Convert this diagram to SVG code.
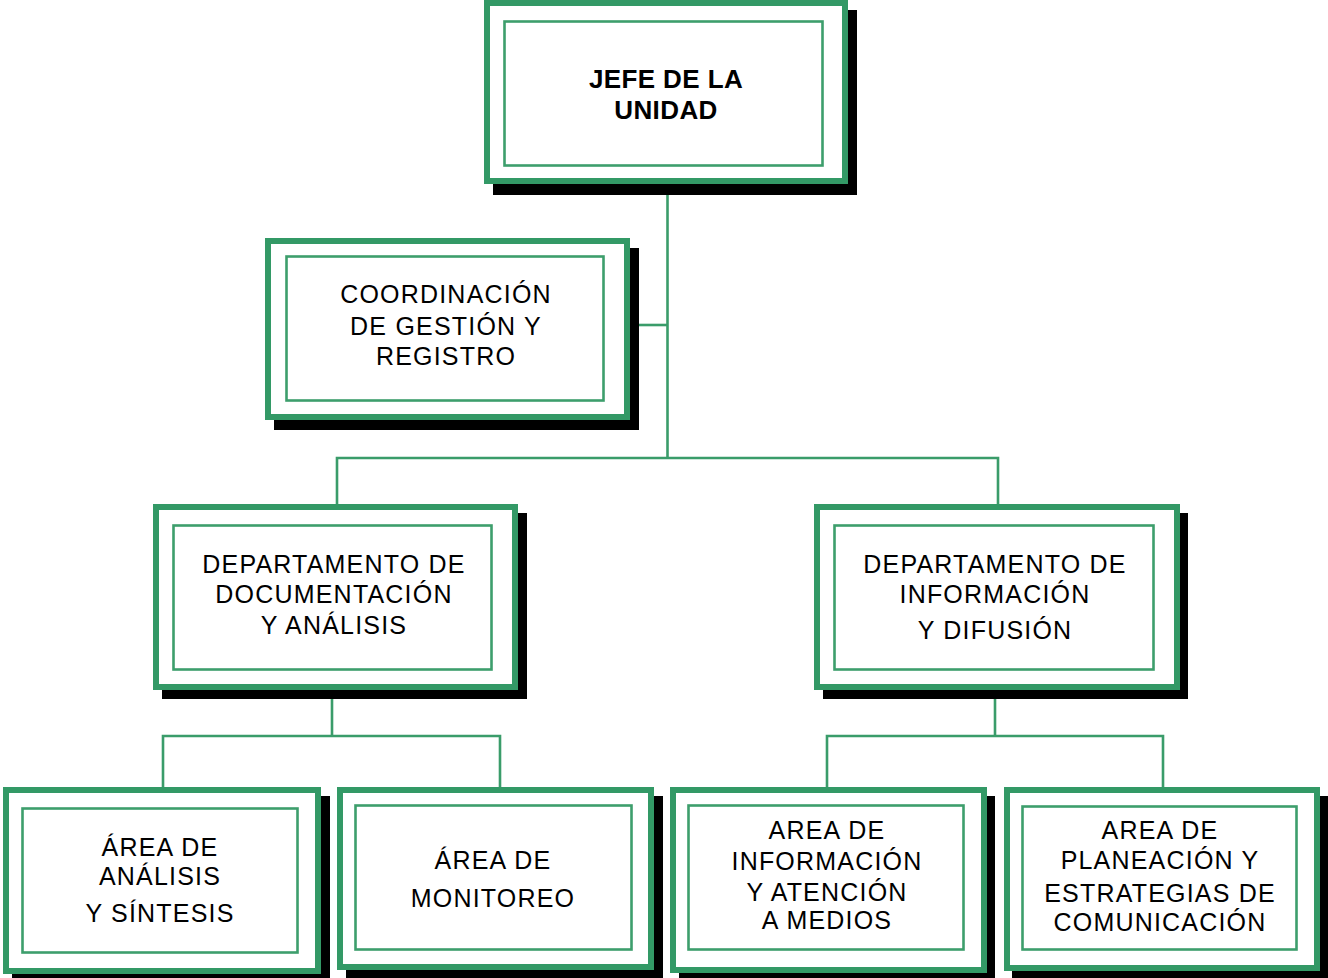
<svg xmlns="http://www.w3.org/2000/svg" width="1328" height="978" viewBox="0 0 1328 978">
  <style>
    .shadow { fill: #000; }
    .outer { fill: #fff; stroke: #339966; stroke-width: 6; }
    .inner { fill: none; stroke: #3d9e6c; stroke-width: 2.6; }
    .link { fill: none; stroke: #3a9c6a; stroke-width: 2.6; }
    .lbl { font-family: "Liberation Sans", Arial, sans-serif; font-size: 25px; letter-spacing: 1.2px; fill: #000; text-anchor: middle; }
    .bold { font-weight: bold; font-size: 26px; letter-spacing: 0.4px; }
  </style>
  <rect width="1328" height="978" fill="#fff"/>

  <!-- connectors -->
  <g id="connectors">
    <path class="link" d="M667.5 184 V458"/>
    <path class="link" d="M639 325 H667.5"/>
    <path class="link" d="M337 504 V458 H998 V504"/>
    <path class="link" d="M332 690 V736"/>
    <path class="link" d="M163 787 V736 H500 V787"/>
    <path class="link" d="M995 690 V736"/>
    <path class="link" d="M827 787 V736 H1163 V787"/>
  </g>

  <!-- head of unit -->
  <g id="jefe">
    <rect class="shadow" x="493" y="10" width="364" height="185"/>
    <rect class="outer" x="487" y="3" width="358" height="178"/>
    <rect class="inner" x="504.5" y="21.5" width="318" height="144"/>
    <text class="lbl bold" x="666" y="88">JEFE DE LA</text>
    <text class="lbl bold" x="666" y="119">UNIDAD</text>
  </g>

  <!-- coordination -->
  <g id="coordinacion">
    <rect class="shadow" x="274" y="248" width="365" height="182"/>
    <rect class="outer" x="268" y="241" width="359" height="176"/>
    <rect class="inner" x="286.5" y="256.5" width="317" height="144"/>
    <text class="lbl" x="446" y="303">COORDINACIÓN</text>
    <text class="lbl" x="446" y="335">DE GESTIÓN Y</text>
    <text class="lbl" x="446" y="365">REGISTRO</text>
  </g>

  <!-- documentation department -->
  <g id="dep-documentacion">
    <rect class="shadow" x="162" y="513" width="365" height="186"/>
    <rect class="outer" x="156" y="507" width="359" height="180"/>
    <rect class="inner" x="173.5" y="525.5" width="318" height="144"/>
    <text class="lbl" x="334" y="573">DEPARTAMENTO DE</text>
    <text class="lbl" x="334" y="603">DOCUMENTACIÓN</text>
    <text class="lbl" x="334" y="634">Y ANÁLISIS</text>
  </g>

  <!-- information department -->
  <g id="dep-informacion">
    <rect class="shadow" x="823" y="513" width="365" height="186"/>
    <rect class="outer" x="817" y="507" width="360" height="180"/>
    <rect class="inner" x="834.5" y="525.5" width="319" height="144"/>
    <text class="lbl" x="995" y="573">DEPARTAMENTO DE</text>
    <text class="lbl" x="995" y="603">INFORMACIÓN</text>
    <text class="lbl" x="995" y="639">Y DIFUSIÓN</text>
  </g>

  <!-- analysis area -->
  <g id="area-analisis">
    <rect class="shadow" x="12" y="796" width="318" height="186"/>
    <rect class="outer" x="6" y="790" width="312" height="181"/>
    <rect class="inner" x="22.5" y="808.5" width="275" height="144"/>
    <text class="lbl" x="160" y="856">ÁREA DE</text>
    <text class="lbl" x="160" y="885">ANÁLISIS</text>
    <text class="lbl" x="160" y="922">Y SÍNTESIS</text>
  </g>

  <!-- monitoring area -->
  <g id="area-monitoreo">
    <rect class="shadow" x="346" y="796" width="317" height="182"/>
    <rect class="outer" x="340" y="790" width="311" height="177"/>
    <rect class="inner" x="355.5" y="805.5" width="276" height="144"/>
    <text class="lbl" x="493" y="869">ÁREA DE</text>
    <text class="lbl" x="493" y="907">MONITOREO</text>
  </g>

  <!-- media area -->
  <g id="area-medios">
    <rect class="shadow" x="679" y="796" width="316" height="186"/>
    <rect class="outer" x="673" y="790" width="311" height="180"/>
    <rect class="inner" x="688.5" y="805.5" width="275" height="144"/>
    <text class="lbl" x="827" y="839">AREA DE</text>
    <text class="lbl" x="827" y="870">INFORMACIÓN</text>
    <text class="lbl" x="827" y="901">Y ATENCIÓN</text>
    <text class="lbl" x="827" y="929">A MEDIOS</text>
  </g>

  <!-- planning area -->
  <g id="area-planeacion">
    <rect class="shadow" x="1012" y="796" width="316" height="182"/>
    <rect class="outer" x="1007" y="790" width="310" height="178"/>
    <rect class="inner" x="1022.5" y="806.5" width="274" height="143"/>
    <text class="lbl" x="1160" y="839">AREA DE</text>
    <text class="lbl" x="1160" y="869">PLANEACIÓN Y</text>
    <text class="lbl" x="1160" y="902">ESTRATEGIAS DE</text>
    <text class="lbl" x="1160" y="931">COMUNICACIÓN</text>
  </g>
</svg>
